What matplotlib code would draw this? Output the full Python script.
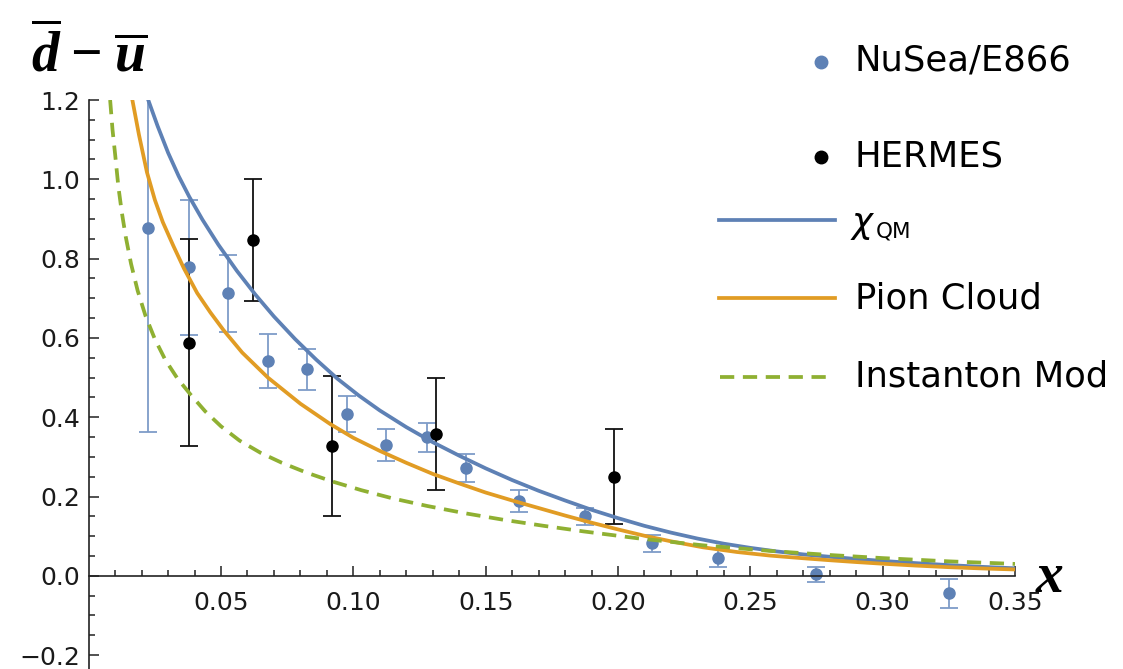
import matplotlib
matplotlib.use("Agg")
import matplotlib.pyplot as plt
from matplotlib.lines import Line2D

plt.rcParams['mathtext.fontset'] = 'custom'
plt.rcParams['mathtext.it'] = 'Liberation Serif:italic:bold'
plt.rcParams['mathtext.rm'] = 'Liberation Serif:bold'
plt.rcParams['mathtext.bf'] = 'Liberation Serif:italic:bold'
plt.rcParams['font.family'] = ['DejaVu Sans']

# ---------------- data ----------------
# NuSea/E866 measurements
e866_x = [0.0225, 0.0378, 0.0525, 0.0677, 0.0825, 0.0975, 0.1125, 0.1277,
          0.1426, 0.1627, 0.1876, 0.2128, 0.2377, 0.2749, 0.3249]
e866_y = [0.878, 0.778, 0.712, 0.541, 0.521, 0.408, 0.330, 0.349,
          0.272, 0.189, 0.150, 0.082, 0.045, 0.004, -0.044]
e866_err = [0.515, 0.170, 0.098, 0.068, 0.052, 0.046, 0.040, 0.037,
            0.036, 0.027, 0.022, 0.021, 0.022, 0.019, 0.036]

# HERMES measurements
hermes_x = [0.0380, 0.0622, 0.0918, 0.1313, 0.1983]
hermes_y = [0.588, 0.847, 0.328, 0.358, 0.250]
hermes_err = [0.261, 0.155, 0.176, 0.141, 0.120]

# chi-QM curve
chiqm_x = [0.0225, 0.026, 0.030, 0.034, 0.038, 0.043, 0.049, 0.056,
           0.063, 0.070, 0.078, 0.086, 0.094, 0.102, 0.110, 0.120,
           0.130, 0.140, 0.150, 0.160, 0.170, 0.180, 0.190, 0.200,
           0.210, 0.220, 0.230, 0.240, 0.250, 0.260, 0.270, 0.280,
           0.290, 0.300, 0.3125, 0.325, 0.3375, 0.350]
chiqm_y = [1.200, 1.135, 1.067, 1.008, 0.956, 0.898, 0.835, 0.769,
           0.709, 0.654, 0.597, 0.545, 0.497, 0.455, 0.417, 0.375,
           0.337, 0.303, 0.271, 0.2415, 0.2145, 0.190, 0.1665, 0.1455,
           0.126, 0.109, 0.094, 0.081, 0.0705, 0.0615, 0.054, 0.048,
           0.0425, 0.0375, 0.032, 0.027, 0.0226, 0.019]

# Pion cloud curve
pion_x = [0.0165, 0.019, 0.022, 0.025, 0.028, 0.032, 0.036, 0.041,
          0.046, 0.0509, 0.058, 0.0677, 0.080, 0.0912, 0.100, 0.110,
          0.120, 0.130, 0.140, 0.150, 0.160, 0.170, 0.180, 0.190,
          0.200, 0.210, 0.220, 0.232, 0.245, 0.2575, 0.270, 0.280,
          0.290, 0.300, 0.3125, 0.325, 0.3375, 0.350]
pion_y = [1.200, 1.112, 1.018, 0.948, 0.892, 0.832, 0.775, 0.713,
          0.664, 0.620, 0.563, 0.500, 0.434, 0.383, 0.348, 0.315,
          0.285, 0.257, 0.233, 0.210, 0.190, 0.171, 0.152, 0.134,
          0.117, 0.101, 0.087, 0.072, 0.060, 0.051, 0.0443, 0.0393,
          0.0347, 0.0305, 0.0258, 0.0218, 0.0186, 0.016]

# Instanton model curve
inst_x = [0.0081, 0.0090, 0.0100, 0.0112, 0.0125, 0.0140, 0.0160, 0.0185,
          0.0215, 0.0250, 0.0290, 0.0335, 0.0385, 0.0440, 0.0500, 0.0570,
          0.0650, 0.0730, 0.0820, 0.0920, 0.1030, 0.1150, 0.1280, 0.1420,
          0.1570, 0.1720, 0.1870, 0.2070, 0.2320, 0.2575, 0.2800, 0.3000,
          0.3250, 0.3500]
inst_y = [1.200, 1.125, 1.062, 0.982, 0.917, 0.855, 0.787, 0.719,
          0.655, 0.597, 0.544, 0.498, 0.457, 0.415, 0.377, 0.341,
          0.310, 0.285, 0.261, 0.238, 0.216, 0.195, 0.176, 0.158,
          0.141, 0.126, 0.112, 0.095, 0.077, 0.0628, 0.0525, 0.0447,
          0.0365, 0.030]

xticks = [0.05, 0.10, 0.15, 0.20, 0.25, 0.30, 0.35]
xtick_labels = ["0.05", "0.10", "0.15", "0.20", "0.25", "0.30", "0.35"]
yticks = [-0.2, 0.0, 0.2, 0.4, 0.6, 0.8, 1.0, 1.2]
ytick_labels = ["\u22120.2", "0.0", "0.2", "0.4", "0.6", "0.8", "1.0", "1.2"]

legend_labels = ["NuSea/E866", "HERMES", "\u03c7", "Pion Cloud", "Instanton Mod"]

# ---------------- style ----------------
BLUE = '#5E81B5'
BLUE_ERR = '#7E9CC8'
ORANGE = '#E19C24'
GREEN = '#8FB032'
AXC = '#222222'
LW = 2.7
DASH = (0, (3.8, 2.3))

W, H = 1123, 669
fig = plt.figure(figsize=(W / 100, H / 100), dpi=100)

x0px, x1px, ytop_px = 88.7, 1015.0, 100.0
ax = fig.add_axes([x0px / W, 0.0, (x1px - x0px) / W, 1 - ytop_px / H])
ax.set_xlim(0, 0.35)
ax.set_ylim(-0.235, 1.2)

for s in ('top', 'right'):
    ax.spines[s].set_visible(False)
ax.spines['bottom'].set_position(('data', 0))
for s in ('left', 'bottom'):
    ax.spines[s].set_color(AXC)
    ax.spines[s].set_linewidth(1.2)

ax.set_xticks(xticks)
ax.set_xticklabels(xtick_labels)
ax.set_xticks([i / 100 for i in range(1, 35)], minor=True)
ax.set_yticks(yticks)
ax.set_yticklabels(ytick_labels)
ax.set_yticks([-0.2 + 0.05 * i for i in range(29)], minor=True)

ax.tick_params(which='both', direction='in', color=AXC, width=1.1)
ax.tick_params(which='major', length=7.5, labelsize=18, labelcolor='#1a1a1a')
ax.tick_params(which='minor', length=4.5)
ax.tick_params(axis='x', which='major', pad=11)
ax.tick_params(axis='y', which='major', pad=6)

# data
ax.errorbar(e866_x, e866_y, yerr=e866_err, fmt='none', ecolor=BLUE_ERR,
            elinewidth=1.3, capsize=6.5, capthick=1.3, zorder=2)
ax.plot(e866_x, e866_y, 'o', ms=8, color=BLUE, zorder=2.5)
ax.errorbar(hermes_x, hermes_y, yerr=hermes_err, fmt='none', ecolor='#111111',
            elinewidth=1.3, capsize=6.5, capthick=1.3, zorder=2)
ax.plot(hermes_x, hermes_y, 'o', ms=8, color='black', zorder=2.5)

# curves
ax.plot(chiqm_x, chiqm_y, color=BLUE, lw=LW, zorder=3, solid_joinstyle='round')
ax.plot(pion_x, pion_y, color=ORANGE, lw=LW, zorder=3, solid_joinstyle='round')
ax.plot(inst_x, inst_y, color=GREEN, lw=LW, ls=DASH, zorder=3)


def fx(px):
    return px / W


def fy(py):
    return 1 - py / H


# legend (drawn manually to match irregular spacing)
fig.add_artist(Line2D([fx(821)], [fy(61.7)], marker='o', ms=9, color=BLUE,
                      transform=fig.transFigure))
fig.text(fx(855), fy(70), legend_labels[0], fontsize=25.5, va='baseline')
fig.add_artist(Line2D([fx(820.7)], [fy(156.7)], marker='o', ms=9, color='black',
                      transform=fig.transFigure))
fig.text(fx(855), fy(166.7), legend_labels[1], fontsize=25.5, va='baseline')
fig.add_artist(Line2D([fx(719), fx(835)], [fy(220), fy(220)], color=BLUE, lw=LW,
                      transform=fig.transFigure))
fig.text(fx(852), fy(233), legend_labels[2], fontsize=25.5, style='italic',
         va='baseline')
fig.text(fx(876), fy(237), "QM", fontsize=15.5, va='baseline')
fig.add_artist(Line2D([fx(719), fx(835)], [fy(298), fy(298)], color=ORANGE, lw=LW,
                      transform=fig.transFigure))
fig.text(fx(855), fy(308.3), legend_labels[3], fontsize=25.5, va='baseline')
fig.add_artist(Line2D([fx(720), fx(828)], [fy(376.7), fy(376.7)], color=GREEN, lw=LW,
                      ls=DASH, transform=fig.transFigure))
fig.text(fx(855), fy(386.7), legend_labels[4], fontsize=25.5, va='baseline')

# axis titles
fig.text(fx(31), fy(72), r'$\overline{d}\hspace{0.08}-\hspace{0.08}\overline{u}$',
         fontsize=40, ha='left', va='baseline')
fig.text(fx(1050), fy(592), r'$x$', fontsize=40, ha='center', va='baseline')

fig.savefig('out.png', dpi=100)
